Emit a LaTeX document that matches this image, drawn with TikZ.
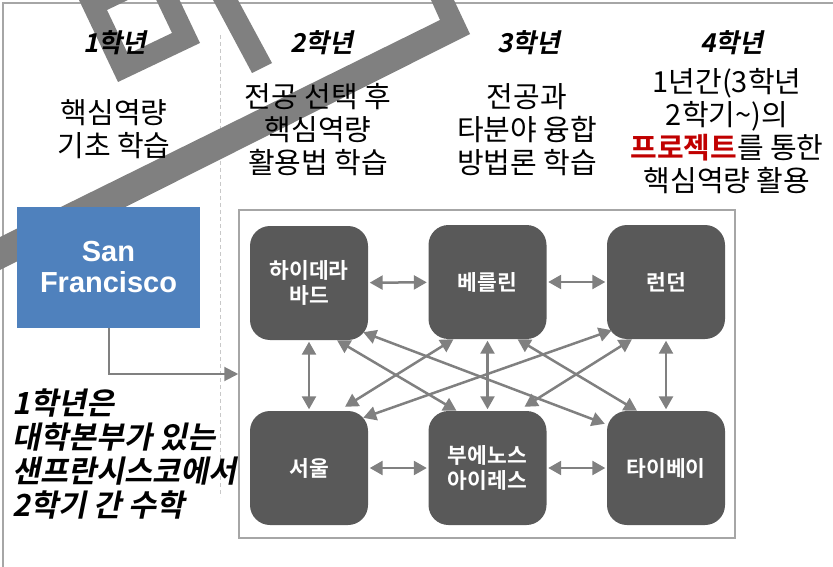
\documentclass[tikz,border=0pt]{standalone}
\usepackage{fontspec}
\setmainfont{Noto Sans CJK KR}
\newfontfamily\krB{Noto Sans CJK KR Bold}
\newfontfamily\krBI[FakeSlant=0.2]{Noto Sans CJK KR Bold}
\newfontfamily\arB{Liberation Sans Bold}
\usetikzlibrary{arrows.meta,calc}
\definecolor{wmgray}{RGB}{128,128,128}
\definecolor{boxgray}{RGB}{89,89,89}
\definecolor{arrgray}{RGB}{128,128,128}
\definecolor{sfblue}{RGB}{79,129,189}
\definecolor{framegray}{RGB}{166,166,166}
\definecolor{dashgray}{RGB}{200,200,200}
\definecolor{projred}{RGB}{192,0,0}
\begin{document}
\begin{tikzpicture}[x=1pt,y=-1pt,
  city/.style={draw=none, fill=boxgray, rounded corners=20pt, minimum width=118pt,
    minimum height=114pt, inner sep=0pt, text=white, align=center,
    font=\krB\fontsize{21.5}{25}\selectfont},
  link/.style={draw=arrgray, line width=2.5pt,
    {Triangle[length=13pt,width=14pt]}-{Triangle[length=13pt,width=14pt]}},
  straight/.style={link, shorten >=1.5pt, shorten <=1.5pt},
  yearhead/.style={inner sep=0pt, font=\krBI\fontsize{26}{30}\selectfont},
  body/.style={align=center, inner sep=0pt, font=\fontsize{29}{33}\selectfont}
]
\useasboundingbox (0,0) rectangle (833,567);
% outer frame (only top and left visible)
\draw[framegray, line width=1.5pt] (3,567) -- (3,3) -- (833,3);
% dashed divider
\draw[dashgray, line width=1pt, dash pattern=on 4pt off 3pt] (220,35) -- (220,497);
% watermark fragments
\fill[wmgray] (0,237) -- (440,20) -- (431,0) -- (454,0) -- (470,34) -- (0,270) -- cycle;
\fill[wmgray, even odd rule] (79,0) -- (118,82) -- (200,43) -- (161,-39) -- cycle
  (107,10) -- (128,54) -- (172,33) -- (151,-11) -- cycle;
\fill[wmgray] (213,0) -- (252,73) -- (272,63) -- (238,0) -- cycle;

% year headers
\node[yearhead] (h1) at (115,43) {1학년};
\node[yearhead] (h2) at (322,43) {2학년};
\node[yearhead] (h3) at (529,43) {3학년};
\node[yearhead] (h4) at (732,43) {4학년};

% column texts
\node[body] (b1) at (114,129) {핵심역량\\기초 학습};
\node[body] (b2) at (318,130) {전공 선택 후\\핵심역량\\활용법 학습};
\node[body] (b3) at (527,130) {전공과\\타분야 융합\\방법론 학습};
\node[body] (b4) at (727,131) {1년간(3학년\\2학기\textasciitilde)의\\{\krB\color{projred}프로젝트}를 통한\\핵심역량 활용};

% San Francisco box
\node[fill=sfblue, minimum width=183pt, minimum height=121pt, inner sep=0pt,
  text=white, align=center, font=\arB\fontsize{29}{31}\selectfont] (sf) at (108.5,267.5) {San\\Francisco};

% note
\node[anchor=west, align=left, inner sep=0pt, font=\krBI\fontsize{30.5}{34}\selectfont] (note) at (12,454)
  {1학년은\\대학본부가 있는\\샌프란시스코에서\\2학기 간 수학};

% inner frame
\node[draw=framegray, line width=1.5pt, minimum width=496pt, minimum height=328pt, inner sep=0pt] (frame) at (487,374) {};

\draw[arrgray, line width=2pt, -{Triangle[length=14pt,width=14pt]}] (sf.south) |- (frame.west);

% city boxes
\node[city] (hyd) at (309,283) {하이데라\\바드};
\node[city] (ber) at (487.5,282) {베를린};
\node[city] (lon) at (666,282) {런던};
\node[city] (seo) at (309,468) {서울};
\node[city] (bue) at (487.5,468) {부에노스\\아이레스};
\node[city] (tai) at (666,468) {타이베이};

% straight links
\draw[straight] (hyd) -- (ber);
\draw[straight] (ber) -- (lon);
\draw[straight] (seo) -- (bue);
\draw[straight] (bue) -- (tai);
\draw[straight] (hyd) -- (seo);
\draw[straight] (ber) -- (bue);
\draw[straight] (lon) -- (tai);
% diagonal links
\draw[link] ($(hyd.south)+(28,0)$) -- ($(bue.north)+(-31,0)$);
\draw[link] ($(hyd.south east)+(-5,-8)$) -- ($(tai.north west)+(-2,13)$);
\draw[link] ($(ber.south)+(-34,0)$) -- ($(seo.north)+(36,-4)$);
\draw[link] ($(ber.south)+(30,0)$) -- ($(tai.north)+(-29,0)$);
\draw[link] ($(lon.south west)+(5,-9)$) -- ($(seo.north east)+(-5,7)$);
\draw[link] ($(lon.south)+(-34,0)$) -- ($(bue.north)+(37,-4)$);
\end{tikzpicture}
\end{document}
